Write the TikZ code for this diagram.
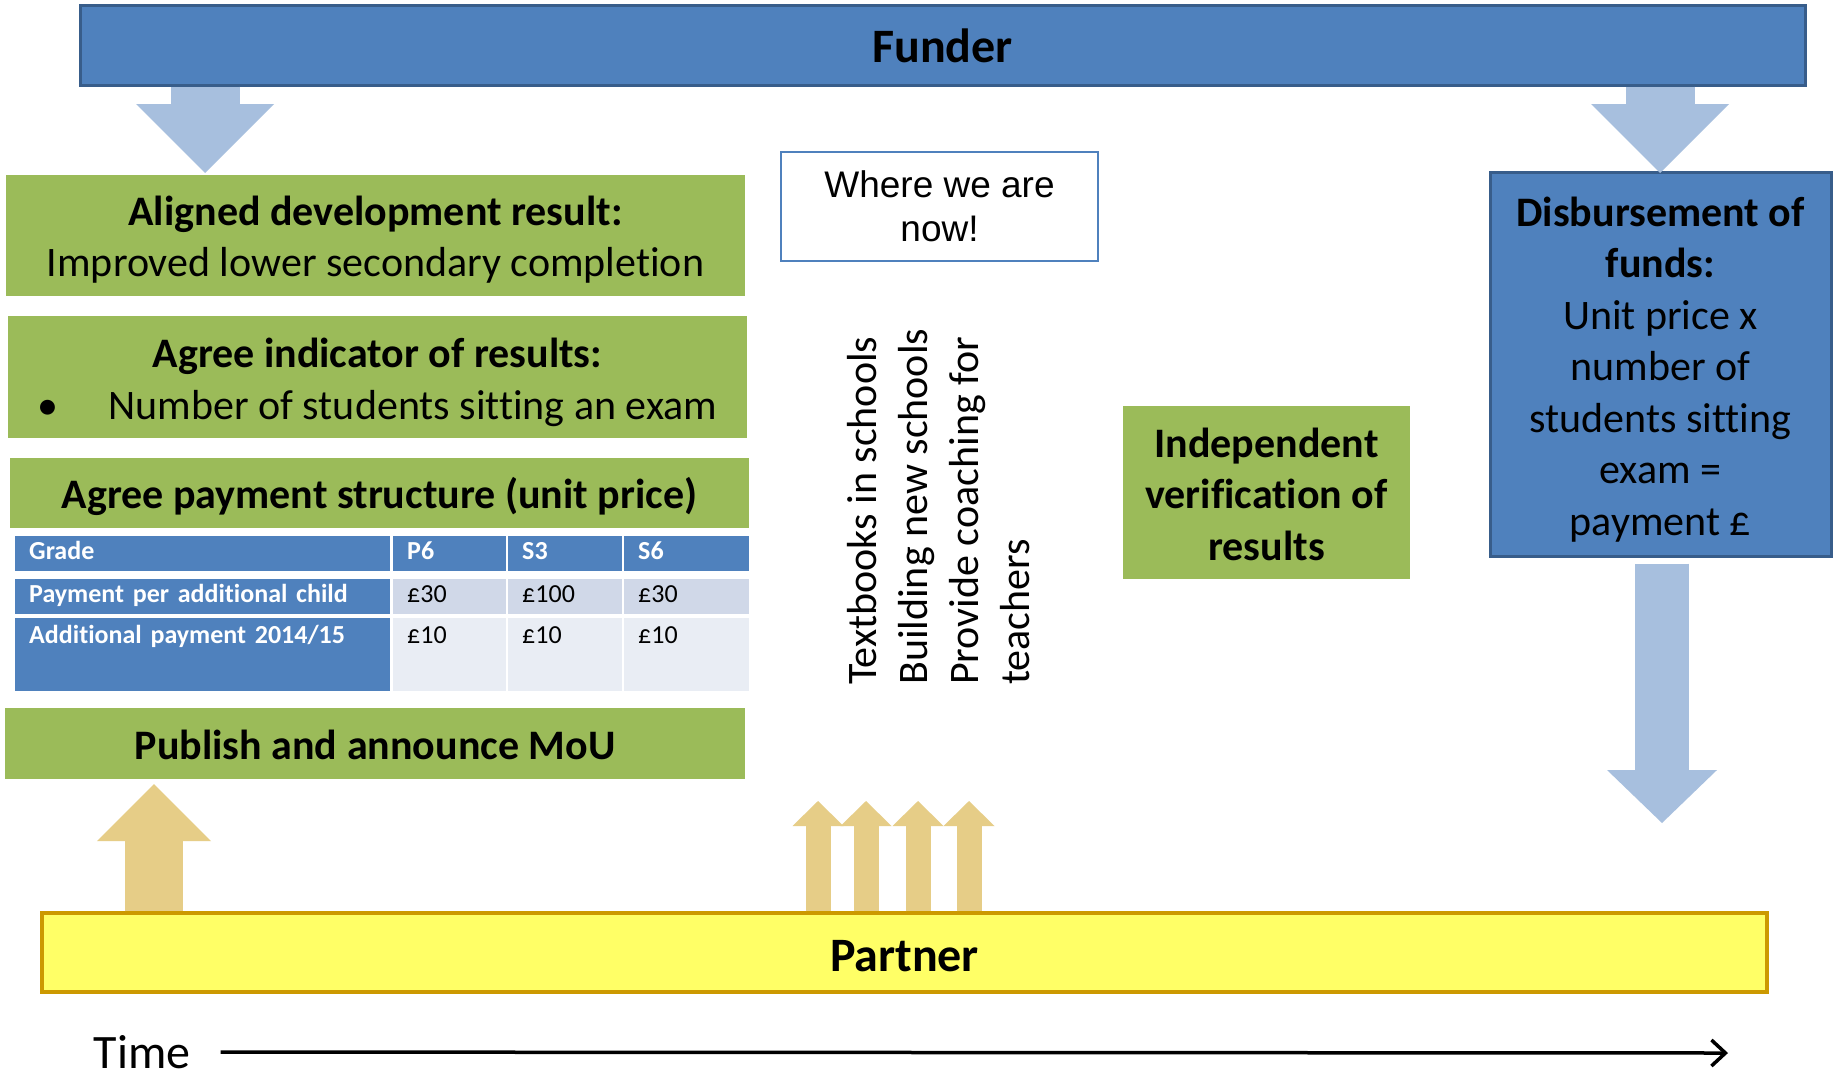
\documentclass[tikz,border=0pt]{standalone}
\usepackage{fontspec}
\setmainfont{Carlito}[Ligatures=NoCommon]
\newfontfamily\arialfont{Liberation Sans}
\usetikzlibrary{arrows.meta}
\definecolor{funderblue}{HTML}{4F81BD}
\definecolor{funderedge}{HTML}{385D8A}
\definecolor{arrowblue}{HTML}{A7BFDE}
\definecolor{resultgreen}{HTML}{9BBB59}
\definecolor{partnerfill}{HTML}{FFFF66}
\definecolor{partneredge}{HTML}{CC9900}
\definecolor{arrowtan}{HTML}{E6CD87}
\definecolor{rowdark}{HTML}{D0D8E8}
\definecolor{rowlight}{HTML}{E9EDF4}
\begin{document}
\begin{tikzpicture}[x=1pt, y=-1pt,
  bigtext/.style={font=\fontsize{48}{58}\selectfont},
  sink/.style={execute at begin node={\rule{0pt}{#1}}},
  greenbox/.style={fill=resultgreen, align=center, inner sep=0pt, font=\fontsize{42}{51.5}\selectfont},
  bluebox/.style={fill=funderblue, draw=funderedge, line width=3pt, align=center, inner sep=0pt},
  hcell/.style={anchor=north west, fill=funderblue, text=white, inner xsep=14pt, inner ysep=0pt, align=left, font=\fontsize{26}{31}\selectfont\bfseries},
  bcell/.style={anchor=north west, fill=#1, inner xsep=14pt, inner ysep=0pt, align=left, font=\fontsize{26}{31}\selectfont},
  row1/.style={text height=23pt, text depth=12pt},
  row2/.style={text height=23pt, text depth=12pt},
  row3/.style={text height=25pt, text depth=48pt},
  funderarrow/.style={draw=arrowblue, line width=69pt, -{Triangle[length=69pt 0 0, width=138pt 0 0, line width=0pt 0 0]}},
  payarrow/.style={draw=arrowblue, line width=54pt, -{Triangle[length=53pt 0 0, width=110pt 0 0, line width=0pt 0 0]}},
  mouarrow/.style={draw=arrowtan, line width=58pt, -{Triangle[length=57pt 0 0, width=114pt 0 0, line width=0pt 0 0]}},
  actarrow/.style={draw=arrowtan, line width=25pt, -{Triangle[length=25pt 0 0, width=51pt 0 0, line width=0pt 0 0]}}]
\useasboundingbox (0,0) rectangle (1835,1073);
\fill[white] (0,0) rectangle (1835,1073);

% funder and partner bars
\node[bluebox, bigtext, minimum width=1725pt, minimum height=79pt] (funder) at (942.5,45.5) {\bfseries Funder};
\node[fill=partnerfill, draw=partneredge, line width=3.5pt, bigtext, sink=38pt, minimum width=1725pt, minimum height=79pt] (partner) at (904.5,952.5) {\bfseries Partner};

% left column
\node[greenbox, minimum width=739pt, minimum height=121pt] (aligned) at (375.5,235.5) {\rule{0pt}{38pt}\textbf{Aligned development result:}\\Improved lower secondary completion};
\node[greenbox, minimum width=739pt, minimum height=122pt] (indicator) at (377.5,377) {\rule{0pt}{40.5pt}\textbf{Agree indicator of results:}\\\textbullet\hspace{50pt}Number of students sitting an exam};
\node[greenbox, sink=38pt, minimum width=739pt, minimum height=70pt] (structure) at (379.5,493) {\bfseries Agree payment structure (unit price)};

% payment table
\node[hcell, row1, text width=347pt] (grade) at (15,536) {Grade};
\node[hcell, row1, text width=85pt] (p6) at (393,536) {P6};
\node[hcell, row1, text width=86pt] (s3) at (508,536) {S3};
\node[hcell, row1, text width=97pt] (s6) at (624,536) {S6};
\node[hcell, row2, text width=347pt] (perchild) at (15,579) {Payment per additional child};
\node[bcell=rowdark, row2, text width=85pt] (p6pay) at (393,579) {£30};
\node[bcell=rowdark, row2, text width=86pt] (s3pay) at (508,579) {£100};
\node[bcell=rowdark, row2, text width=97pt] (s6pay) at (624,579) {£30};
\node[hcell, row3, text width=347pt] (extra) at (15,618) {Additional payment 2014/15};
\node[bcell=rowlight, row3, text width=85pt] (p6extra) at (393,618) {£10};
\node[bcell=rowlight, row3, text width=86pt] (s3extra) at (508,618) {£10};
\node[bcell=rowlight, row3, text width=97pt] (s6extra) at (624,618) {£10};

\node[greenbox, sink=32pt, minimum width=740pt, minimum height=71pt] (publish) at (375,743.5) {\bfseries Publish and announce MoU};

% middle
\node[draw=funderblue, line width=2pt, align=center, minimum width=317pt, minimum height=109pt, font=\arialfont\fontsize{37}{44}\selectfont] (now) at (939.5,206.5) {Where we are\\now!};
\node[rotate=90, anchor=north west, align=left, inner sep=0pt, font=\fontsize{42}{51}\selectfont] (activities) at (847,685) {Textbooks in schools\\Building new schools\\Provide coaching for\\teachers};
\node[greenbox, minimum width=287pt, minimum height=173pt] (verify) at (1266.5,492.5) {\rule{0pt}{33pt}\bfseries Independent\\\bfseries verification of\\\bfseries results};

% right column
\node[bluebox, minimum width=341pt, minimum height=384pt, font=\fontsize{42}{51.5}\selectfont] (disb) at (1660.5,364) {\rule{0pt}{40.5pt}\textbf{Disbursement of}\\\textbf{funds:}\\Unit price x\\number of\\students sitting\\exam =\\payment £};

% block arrows
\coordinate (tipaligned) at (205,173);
\coordinate (tipdisb) at (1660,173);
\coordinate (tippay) at (1662,823);
\coordinate (tipmou) at (154,784);
\draw[funderarrow] (funder.south -| tipaligned) -- (tipaligned);
\draw[funderarrow] (funder.south -| tipdisb) -- (tipdisb);
\draw[payarrow, shorten <=6pt] (disb.south -| tippay) -- (tippay);
\draw[mouarrow] (partner.north -| tipmou) -- (tipmou);
\foreach \x [count=\i] in {818,866,918,969}{
  \coordinate (tipact\i) at (\x,801);
  \draw[actarrow] (partner.north -| tipact\i) -- (tipact\i);
}

% time line
\node[bigtext, inner sep=0pt] (time) at (142,1052) {Time};
\coordinate (timeend) at (1728,1053);
\draw[line width=3.5pt, shorten <=30pt, -{Straight Barb[length=14pt, width=26pt]}] (time) -- (timeend);
\end{tikzpicture}
\end{document}
